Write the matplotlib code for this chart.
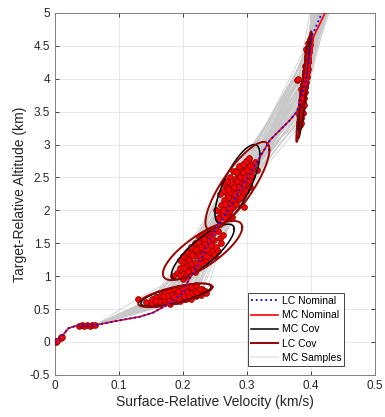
import numpy as np
import matplotlib.pyplot as plt

plt.rcParams['font.family'] = ['Liberation Sans', 'DejaVu Sans']

# nominal trajectories (velocity km/s, altitude km)
lc_nom_v = [0, 0.005, 0.010, 0.021, 0.036, 0.050, 0.065, 0.096, 0.133, 0.153, 0.180, 0.200,
            0.206, 0.225, 0.242, 0.273, 0.305, 0.336, 0.367, 0.378, 0.388, 0.393, 0.401, 0.417]
lc_nom_alt = [0, 0.03, 0.077, 0.21, 0.255, 0.255, 0.26, 0.32, 0.385, 0.445, 0.59, 0.74,
              0.89, 1.20, 1.55, 2.06, 2.56, 3.07, 3.37, 3.50, 3.83, 4.00, 4.64, 5.00]
mc_nom_v = [0, 0.005, 0.010, 0.021, 0.036, 0.050, 0.065, 0.096, 0.133, 0.153, 0.180, 0.200,
            0.206, 0.225, 0.242, 0.273, 0.305, 0.336, 0.367, 0.378, 0.389, 0.395, 0.404, 0.422]
mc_nom_alt = [0, 0.03, 0.077, 0.21, 0.255, 0.255, 0.26, 0.32, 0.385, 0.445, 0.59, 0.74,
              0.89, 1.20, 1.55, 2.06, 2.56, 3.07, 3.37, 3.50, 3.83, 4.00, 4.64, 5.00]

# monte carlo sample positions at the four checkpoints
c1_v = [0.150, 0.155, 0.158, 0.162, 0.165, 0.168, 0.170, 0.172, 0.175, 0.177, 0.179, 0.181,
        0.183, 0.185, 0.187, 0.189, 0.191, 0.193, 0.195, 0.197, 0.199, 0.201, 0.203, 0.205,
        0.207, 0.209, 0.212, 0.214, 0.217, 0.220, 0.223, 0.226, 0.230, 0.235, 0.160, 0.130,
        0.150, 0.152, 0.158, 0.157, 0.165, 0.165, 0.172, 0.172, 0.180, 0.180, 0.188, 0.188,
        0.196, 0.196, 0.204, 0.204, 0.212, 0.212, 0.220, 0.220, 0.228, 0.142, 0.236, 0.184,
        0.170, 0.176, 0.182, 0.186, 0.190, 0.194, 0.198, 0.202, 0.206, 0.210, 0.214, 0.218,
        0.222, 0.163, 0.168, 0.178, 0.192, 0.200, 0.226, 0.156]
c1_alt = [0.60, 0.63, 0.58, 0.62, 0.66, 0.60, 0.64, 0.69, 0.62, 0.67, 0.71, 0.64,
          0.68, 0.74, 0.66, 0.70, 0.63, 0.72, 0.68, 0.76, 0.70, 0.65, 0.73, 0.78,
          0.69, 0.75, 0.72, 0.80, 0.76, 0.70, 0.79, 0.75, 0.81, 0.78, 0.68, 0.66,
          0.57, 0.66, 0.68, 0.60, 0.58, 0.72, 0.60, 0.76, 0.58, 0.78, 0.62, 0.80,
          0.62, 0.82, 0.66, 0.84, 0.66, 0.84, 0.72, 0.86, 0.72, 0.60, 0.74, 0.72,
          0.66, 0.70, 0.72, 0.68, 0.74, 0.66, 0.73, 0.70, 0.76, 0.70, 0.74, 0.78,
          0.76, 0.63, 0.70, 0.62, 0.78, 0.80, 0.80, 0.62]
c2_v = [0.190, 0.195, 0.198, 0.200, 0.203, 0.205, 0.207, 0.209, 0.211, 0.213, 0.215, 0.217,
        0.219, 0.221, 0.223, 0.225, 0.227, 0.229, 0.231, 0.233, 0.235, 0.237, 0.239, 0.241,
        0.243, 0.245, 0.247, 0.249, 0.252, 0.255, 0.258, 0.262, 0.210, 0.200, 0.225, 0.250,
        0.195, 0.195, 0.200, 0.201, 0.205, 0.206, 0.212, 0.212, 0.218, 0.218, 0.224, 0.224,
        0.230, 0.230, 0.236, 0.236, 0.242, 0.242, 0.248, 0.248, 0.254, 0.185, 0.260, 0.228,
        0.205, 0.210, 0.214, 0.218, 0.222, 0.226, 0.228, 0.232, 0.234, 0.238, 0.240, 0.244,
        0.246, 0.216, 0.208, 0.220, 0.236, 0.232, 0.212, 0.202]
c2_alt = [1.05, 1.12, 1.00, 1.20, 1.10, 1.28, 1.15, 1.05, 1.33, 1.22, 1.12, 1.40,
          1.30, 1.18, 1.45, 1.36, 1.25, 1.52, 1.40, 1.30, 1.58, 1.46, 1.35, 1.62,
          1.50, 1.40, 1.66, 1.55, 1.45, 1.68, 1.58, 1.62, 1.40, 0.95, 1.60, 1.30,
          1.02, 1.25, 1.30, 1.05, 1.00, 1.36, 1.10, 1.45, 1.06, 1.50, 1.15, 1.52,
          1.20, 1.62, 1.25, 1.66, 1.28, 1.70, 1.33, 1.72, 1.38, 1.00, 1.50, 1.45,
          1.15, 1.25, 1.32, 1.20, 1.38, 1.30, 1.45, 1.35, 1.50, 1.42, 1.55, 1.47,
          1.58, 1.10, 1.08, 1.42, 1.30, 1.56, 1.18, 1.12]
c3_v = [0.255, 0.258, 0.260, 0.262, 0.264, 0.266, 0.268, 0.270, 0.272, 0.274, 0.275, 0.277,
        0.278, 0.280, 0.281, 0.283, 0.285, 0.286, 0.288, 0.290, 0.291, 0.293, 0.295, 0.297,
        0.299, 0.301, 0.303, 0.306, 0.309, 0.312, 0.268, 0.295, 0.262, 0.305, 0.284, 0.276,
        0.258, 0.258, 0.263, 0.263, 0.268, 0.268, 0.273, 0.273, 0.278, 0.278, 0.283, 0.283,
        0.288, 0.288, 0.293, 0.293, 0.298, 0.298, 0.303, 0.303, 0.308, 0.252, 0.315, 0.280,
        0.262, 0.266, 0.270, 0.272, 0.275, 0.278, 0.280, 0.282, 0.284, 0.287, 0.289, 0.292,
        0.294, 0.297, 0.300, 0.265, 0.270, 0.290, 0.296, 0.304]
c3_alt = [1.88, 1.98, 2.08, 1.92, 2.15, 2.02, 2.25, 2.10, 1.98, 2.32, 2.18, 2.40,
          2.26, 2.12, 2.48, 2.34, 2.20, 2.55, 2.42, 2.30, 2.62, 2.48, 2.36, 2.68,
          2.55, 2.44, 2.72, 2.60, 2.66, 2.74, 2.45, 2.05, 2.30, 2.35, 2.62, 1.90,
          1.80, 2.25, 1.95, 2.40, 1.90, 2.35, 2.00, 2.50, 2.05, 2.60, 2.10, 2.58,
          2.18, 2.68, 2.25, 2.70, 2.30, 2.75, 2.45, 2.80, 2.52, 2.00, 2.62, 2.22,
          2.00, 2.10, 2.20, 2.05, 2.28, 2.15, 2.35, 2.25, 2.45, 2.35, 2.50, 2.42,
          2.58, 2.50, 2.62, 1.88, 2.32, 2.20, 2.40, 2.68]
c4_v = [0.381, 0.382, 0.383, 0.384, 0.384, 0.385, 0.386, 0.386, 0.387, 0.388, 0.388, 0.389,
        0.390, 0.390, 0.391, 0.392, 0.392, 0.393, 0.394, 0.394, 0.395, 0.396, 0.397, 0.398,
        0.385, 0.389, 0.391, 0.393, 0.387, 0.378, 0.380, 0.395, 0.383, 0.396, 0.386, 0.392,
        0.383, 0.384, 0.385, 0.386, 0.387, 0.388, 0.389, 0.390, 0.391, 0.391, 0.392, 0.393,
        0.394, 0.395, 0.396, 0.397, 0.382, 0.384, 0.388, 0.390, 0.392, 0.394, 0.396, 0.398,
        0.385, 0.386, 0.387, 0.388, 0.389, 0.390, 0.391, 0.392, 0.393, 0.394, 0.395, 0.396,
        0.397, 0.384, 0.383, 0.389, 0.393, 0.387, 0.391, 0.386]
c4_alt = [3.35, 3.45, 3.52, 3.40, 3.60, 3.68, 3.55, 3.75, 3.82, 3.65, 3.90, 3.98,
          3.80, 4.05, 4.12, 3.95, 4.20, 4.28, 4.10, 4.35, 4.42, 4.25, 4.50, 4.60,
          3.85, 3.70, 3.88, 4.02, 3.48, 3.98, 3.99, 4.15, 3.30, 4.38, 3.62, 4.45,
          3.40, 3.55, 3.50, 3.72, 3.60, 3.85, 3.78, 3.95, 3.92, 4.05, 4.02, 4.18,
          4.22, 4.30, 4.48, 4.40, 3.28, 3.32, 3.72, 3.88, 4.10, 4.40, 4.55, 4.52,
          3.62, 3.66, 3.70, 3.80, 3.84, 3.92, 3.98, 4.06, 4.12, 4.18, 4.25, 4.32,
          4.45, 3.45, 3.38, 3.60, 4.35, 3.92, 4.20, 3.80]
end_v = [0.402, 0.404, 0.406, 0.408, 0.410, 0.412, 0.414, 0.416, 0.418, 0.420, 0.422, 0.424,
         0.426, 0.428, 0.430, 0.432, 0.405, 0.409, 0.413, 0.417, 0.421, 0.425, 0.429, 0.403,
         0.407, 0.411, 0.415, 0.419, 0.423, 0.427, 0.400, 0.431, 0.406, 0.414, 0.420, 0.426,
         0.403, 0.408, 0.412, 0.416, 0.419, 0.422, 0.426, 0.410, 0.405, 0.415, 0.421, 0.428,
         0.404, 0.409, 0.413, 0.418, 0.424, 0.407, 0.411, 0.417, 0.423, 0.429, 0.401, 0.433,
         0.402, 0.406, 0.410, 0.414, 0.418, 0.422, 0.426, 0.430, 0.404, 0.408, 0.412, 0.416,
         0.420, 0.424, 0.428, 0.403, 0.411, 0.419, 0.427, 0.415]
end_alt = 5.1

# early samples near touchdown / low gate
low_v = [0.001, 0.002, 0.003, 0.009, 0.010, 0.011, 0.038, 0.042, 0.046, 0.050, 0.054, 0.058, 0.062]
low_alt = [0.005, 0.015, 0.02, 0.065, 0.075, 0.08, 0.250, 0.255, 0.248, 0.256, 0.250, 0.254, 0.252]
start_v = [0, 0.010, 0.021, 0.036, 0.063]
start_alt = [0, 0.075, 0.21, 0.255, 0.258]

# covariance ellipses: center v, center alt, sigma v, sigma alt, correlation
mc_cov = [(0.189, 0.715, 0.055, 0.175, 0.72),
          (0.231, 1.37, 0.049, 0.42, 0.82),
          (0.285, 2.40, 0.035, 0.60, 0.75),
          (0.389, 3.85, 0.009, 0.75, 0.92),
          (0.050, 0.252, 0.013, 0.010, 0.3)]
lc_cov = [(0.188, 0.71, 0.058, 0.18, 0.70),
          (0.2305, 1.39, 0.062, 0.45, 0.78),
          (0.285, 2.37, 0.050, 0.67, 0.82),
          (0.389, 3.88, 0.012, 0.84, 0.95),
          (0.050, 0.252, 0.014, 0.012, 0.3)]


def ellipse(cv, ca, sv, sa, rho):
    t = np.linspace(0, 2 * np.pi, 200)
    x = cv + sv * np.cos(t)
    y = ca + sa * (rho * np.cos(t) + np.sqrt(1 - rho ** 2) * np.sin(t))
    return x, y


fig = plt.figure(figsize=(3.85, 4.17), dpi=100)
ax = fig.add_axes([0.143, 0.101, 0.831, 0.868])

for i in range(len(c1_v)):
    tv = start_v + [c1_v[i], c2_v[i], c3_v[i], c4_v[i], end_v[i]]
    ta = start_alt + [c1_alt[i], c2_alt[i], c3_alt[i], c4_alt[i], end_alt]
    ax.plot(tv, ta, color='#c8c8c8', lw=0.5, zorder=1)
ax.plot([], [], color='#e6e6e6', lw=1.2, label='MC Samples')

pts_v = low_v + c1_v + c2_v + c3_v + c4_v
pts_a = low_alt + c1_alt + c2_alt + c3_alt + c4_alt
ax.scatter(pts_v, pts_a, s=17, c='red', edgecolors='#8b0000', linewidths=0.6, zorder=3)

for k, e in enumerate(mc_cov):
    x, y = ellipse(*e)
    ax.plot(x, y, color='black', lw=1.1, zorder=4, label='MC Cov' if k == 0 else None)
for k, e in enumerate(lc_cov):
    x, y = ellipse(*e)
    ax.plot(x, y, color='#990000', lw=1.4, zorder=4, label='LC Cov' if k == 0 else None)

ax.plot(mc_nom_v, mc_nom_alt, color='red', lw=1.2, zorder=5, label='MC Nominal')
ax.plot(lc_nom_v, lc_nom_alt, color='blue', lw=1.3, ls=':', zorder=6, label='LC Nominal')

ax.set_xlim(0, 0.5)
ax.set_ylim(-0.5, 5)
ax.set_xticks([0, 0.1, 0.2, 0.3, 0.4, 0.5])
ax.set_xticklabels(['0', '0.1', '0.2', '0.3', '0.4', '0.5'])
ax.set_yticks(np.arange(-0.5, 5.01, 0.5))
ax.set_yticklabels(['-0.5', '0', '0.5', '1', '1.5', '2', '2.5', '3', '3.5', '4', '4.5', '5'])
ax.grid(True, color='#e4e4e4', lw=0.6)
ax.set_axisbelow(True)
ax.tick_params(direction='in', top=True, right=True, labelsize=8.5, colors='#262626',
               length=3, width=0.6)
for s in ax.spines.values():
    s.set_color('#808080')
    s.set_linewidth(0.7)
ax.set_xlabel('Surface-Relative Velocity (km/s)', fontsize=10, color='#262626', labelpad=2)
ax.set_ylabel('Target-Relative Altitude (km)', fontsize=10, color='#262626', labelpad=2)

handles, labels = ax.get_legend_handles_labels()
order = ['LC Nominal', 'MC Nominal', 'MC Cov', 'LC Cov', 'MC Samples']
hl = dict(zip(labels, handles))
leg = ax.legend([hl[o] for o in order], order, loc='lower right',
                bbox_to_anchor=(0.904, 0.025), fontsize=7.5, frameon=True, fancybox=False,
                edgecolor='#262626', framealpha=1, borderpad=0.3, labelspacing=0.4,
                handlelength=2.6, handletextpad=0.3, borderaxespad=0)
leg.get_frame().set_linewidth(0.6)

fig.savefig('out.png', dpi=100)
